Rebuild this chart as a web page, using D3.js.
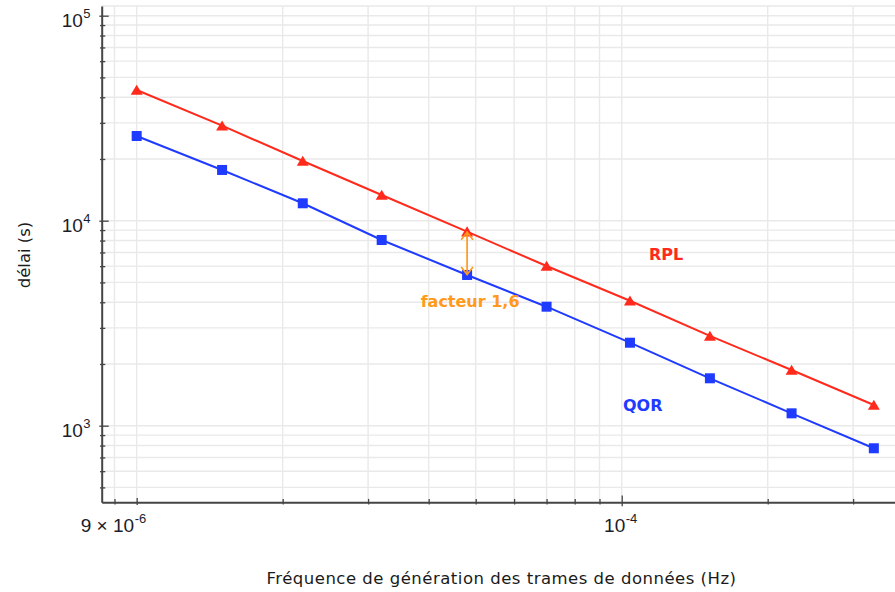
<!DOCTYPE html>
<html>
<head>
<meta charset="utf-8">
<script src="https://cdn.jsdelivr.net/npm/d3@7/dist/d3.min.js"></script>
<style>
  html, body { margin: 0; padding: 0; background: #ffffff; }
  svg { display: block; }
</style>
</head>
<body>
<svg id="chart" width="895" height="592"></svg>
<script>
// Frame generation frequency (Hz)
const frequencies = [1.0e-5, 1.5e-5, 2.2e-5, 3.2e-5, 4.8e-5, 7.0e-5, 1.04e-4, 1.52e-4, 2.24e-4, 3.31e-4];
// Delay (s) for each protocol
const rplDelay = [43400, 29070, 19550, 13350, 8840, 6010, 4070, 2740, 1870, 1262];
const qorDelay = [25890, 17680, 12160, 8050, 5435, 3806, 2540, 1703, 1149, 776];

// Tick positions
const xTicks = [9e-6, 1e-5, 2e-5, 3e-5, 4e-5, 5e-5, 6e-5, 7e-5, 8e-5, 9e-5, 1e-4, 2e-4, 3e-4];
const yTicks = [500, 600, 700, 800, 900,
                1000, 2000, 3000, 4000, 5000, 6000, 7000, 8000, 9000,
                10000, 20000, 30000, 40000, 50000, 60000, 70000, 80000, 90000, 100000];
const xTickLabels = [
  { value: 9e-6, mantissa: "9 × 10", exponent: "-6" },
  { value: 1e-4, mantissa: "10", exponent: "-4" }
];
const yTickLabels = [
  { value: 1e3, mantissa: "10", exponent: "3" },
  { value: 1e4, mantissa: "10", exponent: "4" },
  { value: 1e5, mantissa: "10", exponent: "5" }
];

// Series labels and the ratio note (anchored in data units)
const seriesLabels = [
  { text: "RPL", x: 1.138e-4, y: 6400, color: "#ff2a1c" },
  { text: "QOR", x: 1.006e-4, y: 1186, color: "#1f3bff" }
];
const ratioNote = { text: "facteur 1,6", x: 3.85e-5, y: 3773, index: 4, color: "#ff9a1a" };

const xTitle = "Fréquence de génération des trames de données (Hz)";
const yTitle = "délai (s)";

const svg = d3.select("#chart");

const x = d3.scaleLog().domain([8.47e-6, 3.66e-4]).range([101.7, 895]);
const y = d3.scaleLog().domain([423, 1.115e5]).range([502.3, 6]);

const [xL, xR] = x.range();
const [yB, yT] = y.range();

const gridColor = "#e9e9e9";
const axisColor = "#454545";
const labelColor = "#1c1c2a";
const tickFont = "'Liberation Sans', Arial, sans-serif";

// Grid
const grid = svg.append("g");
grid.selectAll("line.vx").data(xTicks).join("line")
  .attr("x1", d => x(d)).attr("x2", d => x(d))
  .attr("y1", yT).attr("y2", yB)
  .attr("stroke", gridColor).attr("stroke-width", 1.4);
grid.selectAll("line.hy").data(yTicks).join("line")
  .attr("x1", xL).attr("x2", xR)
  .attr("y1", d => y(d)).attr("y2", d => y(d))
  .attr("stroke", gridColor).attr("stroke-width", 1.4);
grid.append("line")
  .attr("x1", xL).attr("x2", xR).attr("y1", yT).attr("y2", yT)
  .attr("stroke", gridColor).attr("stroke-width", 1.4);

// Series
const rpl = frequencies.map((f, i) => ({ f, v: rplDelay[i] }));
const qor = frequencies.map((f, i) => ({ f, v: qorDelay[i] }));
const line = d3.line().x(d => x(d.f)).y(d => y(d.v));

svg.append("path").datum(rpl).attr("d", line)
  .attr("fill", "none").attr("stroke", "#ff2a1c").attr("stroke-width", 2);
svg.append("path").datum(qor).attr("d", line)
  .attr("fill", "none").attr("stroke", "#1f3bff").attr("stroke-width", 2);

svg.append("g").selectAll("path").data(rpl).join("path")
  .attr("transform", d => `translate(${x(d.f)},${y(d.v)})`)
  .attr("d", "M0,-5.3L6,4.8L-6,4.8Z")
  .attr("fill", "#ff2a1c");
svg.append("g").selectAll("rect").data(qor).join("rect")
  .attr("x", d => x(d.f) - 5).attr("y", d => y(d.v) - 5)
  .attr("width", 10).attr("height", 10)
  .attr("fill", "#1f3bff");

// Double-headed arrow between the two series at one frequency
const ax = x(frequencies[ratioNote.index]);
const ay1 = y(rplDelay[ratioNote.index]) + 0.5;
const ay2 = y(qorDelay[ratioNote.index]) - 0.5;
const arrow = svg.append("g").attr("stroke", ratioNote.color).attr("stroke-width", 1.7)
  .attr("fill", "none").attr("stroke-linecap", "round").attr("stroke-linejoin", "round");
arrow.append("line").attr("x1", ax).attr("x2", ax).attr("y1", ay1).attr("y2", ay2);
arrow.append("path").attr("d", `M${ax - 5.5},${ay1 + 7}L${ax},${ay1}L${ax + 5.5},${ay1 + 7}`);
arrow.append("path").attr("d", `M${ax - 5.5},${ay2 - 7}L${ax},${ay2}L${ax + 5.5},${ay2 - 7}`);

// Axes
const yMajor = d => Math.abs(Math.log10(d) - Math.round(Math.log10(d))) < 1e-9;

const yAxisG = svg.append("g").attr("transform", `translate(${xL},0)`)
  .call(d3.axisLeft(y).tickValues(yTicks).tickSizeOuter(0).tickFormat(() => ""));
yAxisG.select(".domain").attr("stroke", axisColor).attr("stroke-width", 2);
yAxisG.selectAll(".tick line")
  .attr("stroke", axisColor).attr("stroke-width", 1.3)
  .attr("x1", d => yMajor(d) ? -2.4 : -1.7)
  .attr("x2", d => yMajor(d) ? 7 : 3.6);
yAxisG.selectAll(".tick text").remove();

const xAxisG = svg.append("g").attr("transform", `translate(0,${yB})`)
  .call(d3.axisBottom(x).tickValues(xTicks).tickSizeOuter(0).tickFormat(() => ""));
xAxisG.select(".domain").attr("stroke", axisColor).attr("stroke-width", 2);
xAxisG.selectAll(".tick line")
  .attr("stroke", axisColor).attr("stroke-width", 1.3)
  .attr("y1", d => d === 1e-4 ? -6.7 : (d === 1e-5 ? -4.4 : -3.4))
  .attr("y2", d => d === 1e-4 ? 4 : (d === 1e-5 ? 2.6 : 2.2));
xAxisG.selectAll(".tick text").remove();

// Tick labels with superscript exponents
const yl = svg.append("g").attr("font-family", tickFont).attr("fill", labelColor);
yTickLabels.forEach(t => {
  const txt = yl.append("text").attr("x", 90.5).attr("y", y(t.value) + 11)
    .attr("text-anchor", "end").attr("font-size", 19);
  txt.append("tspan").text(t.mantissa);
  txt.append("tspan").attr("dx", 0.5).attr("dy", -8.5).attr("font-size", 13).text(t.exponent);
});
const xl = svg.append("g").attr("font-family", tickFont).attr("fill", labelColor);
xTickLabels.forEach(t => {
  const txt = xl.append("text").attr("x", x(t.value) - 1).attr("y", yB + 29.5)
    .attr("text-anchor", "middle").attr("font-size", 19);
  txt.append("tspan").text(t.mantissa);
  txt.append("tspan").attr("dx", 0.5).attr("dy", -8.5).attr("font-size", 13).text(t.exponent);
});

// Axis titles
svg.append("text")
  .attr("x", 501.5).attr("y", 584)
  .attr("text-anchor", "middle")
  .attr("font-family", "'DejaVu Sans', sans-serif")
  .attr("font-size", 16.5).attr("letter-spacing", 0.5)
  .attr("fill", "#1a1a1a")
  .text(xTitle);
svg.append("text")
  .attr("transform", `translate(29.5,255) rotate(-90)`)
  .attr("text-anchor", "middle")
  .attr("font-family", "'DejaVu Sans', sans-serif")
  .attr("font-size", 16.5)
  .attr("fill", "#1a1a1a")
  .text(yTitle);

// Series labels and ratio note
svg.append("g").selectAll("text").data(seriesLabels.concat([ratioNote])).join("text")
  .attr("x", d => x(d.x)).attr("y", d => y(d.y))
  .attr("font-family", "'DejaVu Sans', sans-serif")
  .attr("font-weight", "bold").attr("font-size", 16)
  .attr("fill", d => d.color)
  .text(d => d.text);
</script>
</body>
</html>
